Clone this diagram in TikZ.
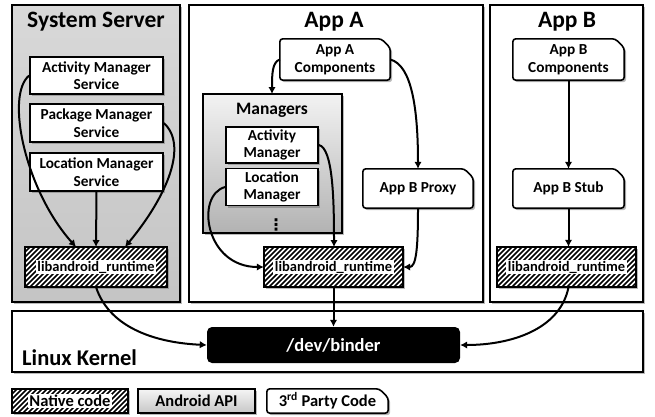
\documentclass[tikz,border=0pt]{standalone}
\usepackage{fontspec}
\setmainfont{Carlito}
\newfontfamily\djv{DejaVu Sans}
\usetikzlibrary{shadows,arrows.meta}
\newcommand\tpbox[7]{%
  \node[tpframe,minimum width=#4pt,minimum height=#5pt] (#1) at (#2,#3) {};
  \draw[tpline] (#1.south west) -- (#1.north west) -- ([xshift=-9pt]#1.north east)
     -- ([yshift=-9pt]#1.north east) -- (#1.south east) -- cycle;
  \node[align=center,#7] at (#1) {#6};}
\newcommand\hatchbox[5]{%
  \node[hatchframe,minimum width=#4pt,minimum height=#5pt] (#1) at (#2,#3) {};
  \begin{scope}
    \clip (#1.south west) rectangle (#1.north east);
    \foreach \i in {0,5,...,190}
      \draw[line width=1.5pt] ([xshift={(\i-#5)*1pt}]#1.south west) -- ++(#5,-#5);
  \end{scope}
  \draw[line width=1.8pt] (#1.south west) rectangle (#1.north east);}
\begin{document}
\begin{tikzpicture}[x=1pt,y=-1pt,
  shad/.style={drop shadow={shadow xshift=2pt,shadow yshift=-2pt,opacity=0.45,fill=black!60}},
  frame/.style={draw,line width=1.8pt,inner sep=0pt,shad},
  graybox/.style={frame,top color=black!15,bottom color=black!23},
  mgrbox/.style={frame,top color=black!5,bottom color=black!30},
  fs15/.style={font=\bfseries\fontsize{15.3}{17.5}\selectfont},
  fs17/.style={font=\bfseries\fontsize{16.5}{19}\selectfont},
  whitebox/.style={frame,fill=white,line width=1.6pt,align=center,fs15},
  hatchframe/.style={fill=white,inner sep=0pt,shad},
  hlabel/.style={fill=white,inner xsep=1.5pt,inner ysep=1pt,
     font=\bfseries\fontsize{14.5}{16}\selectfont},
  tpframe/.style={inner sep=0pt},
  tpline/.style={line width=1.6pt,fill=white,rounded corners=3pt,shad},
  title/.style={font=\bfseries\fontsize{23.5}{27}\selectfont,inner sep=0pt},
  arr/.style={line width=2pt,-{Latex[length=7pt,width=7.5pt]}},
  sz/.style 2 args={minimum width=#1pt,minimum height=#2pt}]
\useasboundingbox (0,0) rectangle (655,416);

% outer frames
\node[graybox,sz={168}{297}] (ss) at (96,153.5) {};
\node[frame,fill=white,sz={294}{297}] (appa) at (336,153.5) {};
\node[frame,fill=white,sz={153}{297}] (appb) at (566.5,153.5) {};
\node[frame,fill=white,sz={631}{61}] (kern) at (327.5,341.5) {};

\node[title] (tss) at (96,22) {System Server};
\node[title] (tappa) at (334,22) {App A};
\node[title] (tappb) at (567,22) {App B};

% System Server
\node[whitebox,sz={133}{37}] (ams) at (96.5,75.5) {Activity Manager\\Service};
\node[whitebox,sz={133}{38}] (pms) at (96.5,123) {Package Manager\\Service};
\node[whitebox,sz={133}{38}] (lms) at (96.5,172) {Location Manager\\Service};
\hatchbox{libs}{96}{267}{142}{40}
\node[hlabel] (libstxt) at (libs) {libandroid\_runtime};

% App A
\tpbox{acomp}{335}{59.5}{110}{41}{App A\\Components}{fs15}
\node[mgrbox,sz={139}{139}] (mgr) at (272.5,163.5) {};
\node[font=\bfseries\fontsize{17.5}{20}\selectfont] (tmgr) at (272,110) {Managers};
\node[whitebox,sz={92}{36}] (am) at (272,145) {Activity\\Manager};
\node[whitebox,sz={92}{37}] (lm) at (272,187) {Location\\Manager};
\node[font=\djv\bfseries\fontsize{16}{16}\selectfont,inner sep=0pt] (dots) at (276,225) {⋮};
\tpbox{proxy}{418}{188.5}{110}{39}{App B Proxy}{fs15}
\hatchbox{liba}{333.5}{267}{139}{40}
\node[hlabel] (libatxt) at (liba) {libandroid\_runtime};

% App B
\tpbox{bcomp}{568.5}{59.5}{111}{41}{App B\\Components}{fs15}
\tpbox{stub}{568.5}{188.5}{111}{39}{App B Stub}{fs15}
\hatchbox{libb}{566.5}{267}{139}{40}
\node[hlabel] (libbtxt) at (libb) {libandroid\_runtime};

% Kernel
\node[fill=black,rounded corners=5pt,sz={253}{36},text=white,
  font=\bfseries\fontsize{18.5}{21}\selectfont] (binder) at (333.5,345) {/dev/binder};
\node[anchor=base west,inner sep=0pt,font=\bfseries\fontsize{22.5}{26}\selectfont]
  (tkern) at (22,365) {Linux Kernel};

% arrows System Server
\draw[arr] (ams.west) .. controls (5,95) and (25,190) .. (76,247);
\draw[arr] (pms.east) .. controls (188,145) and (168,195) .. (125,247);
\draw[arr] (lms.south) -- (96,247);
\draw[arr] (96,287) .. controls (110,330) and (160,343) .. (binder.west);

% arrows App A
\draw[arr] (acomp.west) .. controls (272,62) and (272,75) .. (272,94);
\draw[arr] (acomp.east) .. controls (412,65) and (418,110) .. (proxy.north);
\draw[arr] (am.east) .. controls (333,148) and (334,200) .. (334,247);
\draw[arr] (lm.west) .. controls (195,195) and (205,267) .. (liba.west);
\draw[arr] (proxy.south) .. controls (418,250) and (416,267) .. (liba.east);
\draw[arr] (liba.south) -- (binder.north -| liba.south);

% arrows App B
\draw[arr] (bcomp.south) -- (stub.north);
\draw[arr] (stub.south) -- (stub.south |- libb.north);
\draw[arr] (libb.south -| stub.south) .. controls (560,330) and (510,345) .. (binder.east);

% legend
\hatchbox{lnat}{70}{401}{116}{24}
\node[hlabel,fs17] (lnattxt) at (lnat) {Native code};
\node[frame,top color=black!4,bottom color=black!22,sz={117}{24},fs17] (lapi) at (196.5,401) {Android API};
\tpbox{ltp}{327.5}{401}{121}{24}{3\textsuperscript{rd} Party Code}{fs17}
\end{tikzpicture}
\end{document}
